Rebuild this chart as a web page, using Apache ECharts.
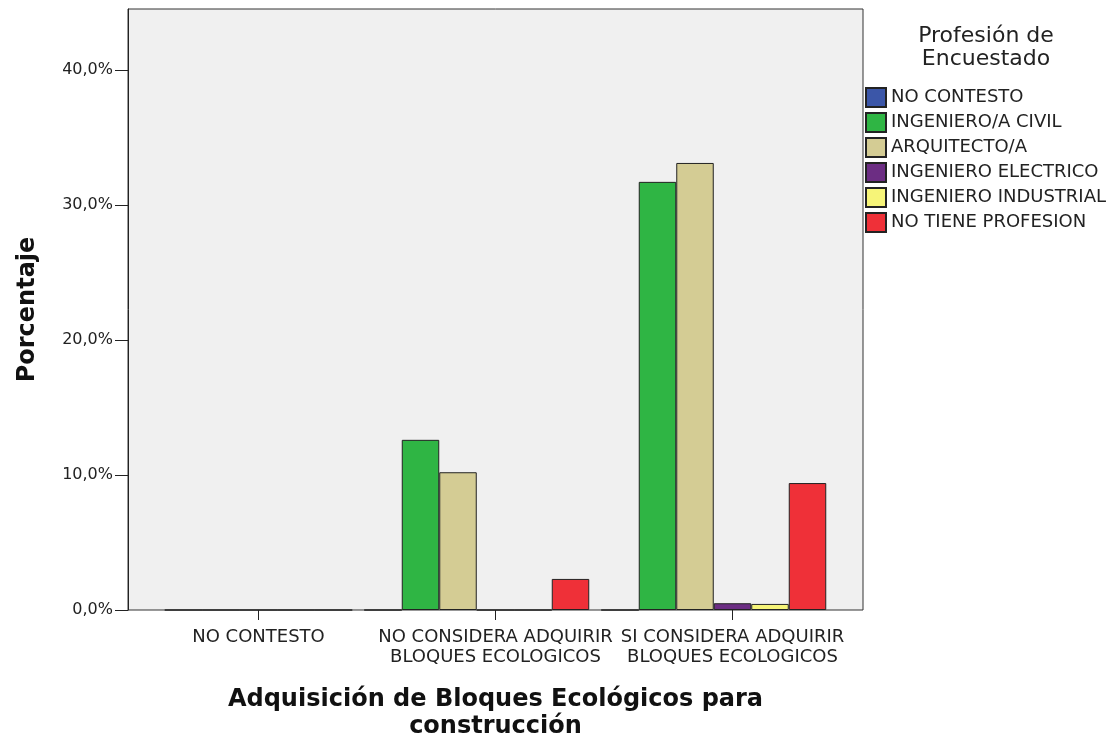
<!DOCTYPE html>
<html>
<head>
<meta charset="utf-8">
<script src="https://cdn.jsdelivr.net/npm/echarts@6/dist/echarts.min.js"></script>
<style>
  html, body { margin: 0; padding: 0; background: #fff; }
  #myChart { width: 1111px; height: 743px; }
</style>
</head>
<body>
<div id="myChart"></div>
<script>
  const categorias = ['NO CONTESTO', 'NO CONSIDERA ADQUIRIR\nBLOQUES ECOLOGICOS', 'SI CONSIDERA ADQUIRIR\nBLOQUES ECOLOGICOS'];
  const profesiones = ['NO CONTESTO', 'INGENIERO/A CIVIL', 'ARQUITECTO/A', 'INGENIERO ELECTRICO', 'INGENIERO INDUSTRIAL', 'NO TIENE PROFESION'];
  const colores = ['#3b56a8', '#2fb544', '#d4cc94', '#6c2d83', '#f6f478', '#ef3038'];
  // porcentajes por profesion, uno por categoria
  const noContesto = [null, 0, 0];
  const civil = [0, 12.6, 31.7];
  const arquitecto = [0, 10.2, 33.1];
  const electrico = [0, 0, 0.5];
  const industrial = [0, 0, 0.45];
  const sinProfesion = [0, 2.3, 9.4];
  const yTicks = [0, 10, 20, 30, 40];

  const valores = [noContesto, civil, arquitecto, electrico, industrial, sinProfesion];
  const fuente = 'DejaVu Sans';

  let myChart = echarts.init(document.getElementById('myChart'));

  let series = profesiones.map(function (p, i) {
    return {
      name: p,
      type: 'bar',
      xAxisIndex: 1,
      yAxisIndex: 1,
      barWidth: 37.5,
      barGap: '0%',
      clip: false,
      itemStyle: { color: colores[i], borderColor: '#222', borderWidth: 1 },
      data: valores[i]
    };
  });
  // SPSS deja un hueco vacio al final de cada grupo
  series.push({
    name: 'hueco',
    type: 'bar',
    xAxisIndex: 1,
    yAxisIndex: 1,
    barWidth: 37.5,
    barGap: '0%',
    data: [null, null, null]
  });

  let option = {
    animation: false,
    textStyle: { fontFamily: fuente },
    graphic: [{
      type: 'text',
      x: 986,
      y: 25,
      style: {
        text: 'Profesión de\nEncuestado',
        align: 'center',
        fill: '#222',
        font: '22px "DejaVu Sans"',
        lineHeight: 23
      }
    }],
    legend: {
      data: profesiones,
      orient: 'vertical',
      left: 865,
      top: 87,
      padding: 0,
      itemWidth: 20,
      itemHeight: 19,
      itemGap: 4,
      icon: 'rect',
      textStyle: { fontFamily: fuente, fontSize: 18, lineHeight: 20, color: '#222' }
    },
    grid: [
      { left: 128, right: 248, top: 9, bottom: 133, outerBoundsMode: 'none', show: true, backgroundColor: '#f0f0f0', borderColor: '#333', borderWidth: 1 },
      { left: 140, right: 260, top: 9, bottom: 133, outerBoundsMode: 'none' }
    ],
    xAxis: [
      { type: 'value', gridIndex: 0, show: false },
      {
        type: 'category',
        gridIndex: 1,
        data: categorias,
        axisLine: { show: false },
        axisTick: { show: true, alignWithLabel: true, length: 10, lineStyle: { color: '#222' } },
        axisLabel: { interval: 0, margin: 17, fontFamily: fuente, fontSize: 18, lineHeight: 20, color: '#222' },
        name: 'Adquisición de Bloques Ecológicos para\nconstrucción',
        nameLocation: 'middle',
        nameGap: 76,
        nameTextStyle: { fontFamily: fuente, fontSize: 24, fontWeight: 'bold', color: '#111', lineHeight: 27 }
      }
    ],
    yAxis: [
      {
        type: 'value',
        gridIndex: 0,
        min: yTicks[0],
        max: 44.5,
        interval: 10,
        splitLine: { show: false },
        axisLine: { show: true, lineStyle: { color: '#222' } },
        axisTick: { show: true, length: 13, customValues: yTicks, lineStyle: { color: '#222' } },
        axisLabel: {
          margin: 15,
          fontFamily: fuente,
          fontSize: 16,
          color: '#222',
          customValues: yTicks,
          formatter: function (v) {
            return v.toFixed(1).replace('.', ',') + '%';
          }
        },
        name: 'Porcentaje',
        nameLocation: 'middle',
        nameGap: 88,
        nameTextStyle: { fontFamily: fuente, fontSize: 24, fontWeight: 'bold', color: '#111' }
      },
      { type: 'value', gridIndex: 1, min: 0, max: 44.5, show: false }
    ],
    series: series
  };

  myChart.setOption(option);
</script>
</body>
</html>
